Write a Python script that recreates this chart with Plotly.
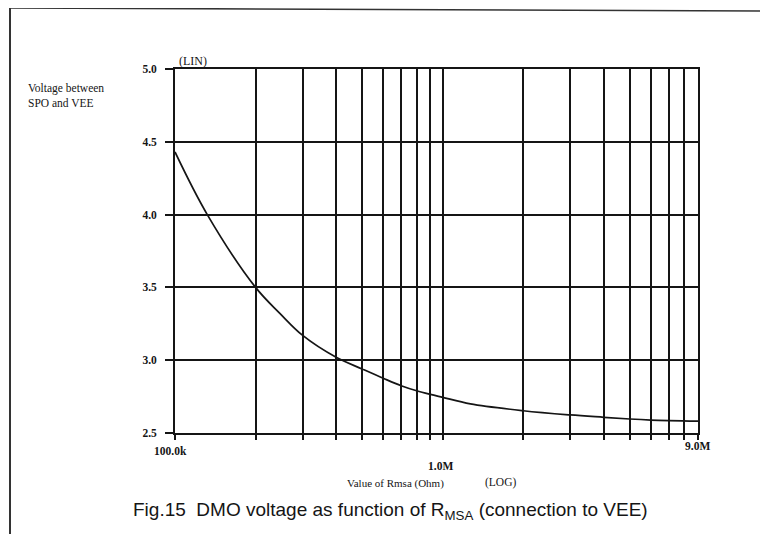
import plotly.graph_objects as go
import math

# Data (resistance in Ohm, voltage in V)
r_msa = [100e3, 132e3, 200e3, 247e3, 300e3, 400e3, 500e3, 600e3, 700e3,
         800e3, 900e3, 1.0e6, 1.27e6, 2.0e6, 3.0e6, 4.0e6, 5.0e6, 6.0e6, 9.0e6]
voltage = [4.43, 4.00, 3.50, 3.32, 3.17, 3.02, 2.94, 2.876, 2.825,
           2.79, 2.765, 2.745, 2.70, 2.653, 2.624, 2.608, 2.596, 2.589, 2.582]

x_grid = [1e5 * k for k in range(1, 10)] + [1e6 * k for k in range(1, 10)]
y_ticks = [2.5, 3.0, 3.5, 4.0, 4.5, 5.0]

OFF = 8  # page body margin
W, H = 768 - OFF, 534 - OFF
L, R, T, B = 175 - OFF, 70, 69 - OFF, 101
pw, ph = W - L - R, H - T - B

def px(xs):
    return (xs - OFF - L) / pw

def py(ys):
    return 1 - (ys - OFF - T) / ph

serif = "Liberation Serif, Times New Roman, serif"
ink = "#151515"

fig = go.Figure()
fig.add_trace(go.Scatter(x=r_msa, y=voltage, mode="lines",
                         line=dict(color=ink, width=1.7, shape="spline", smoothing=1.0),
                         hoverinfo="skip", showlegend=False))

fig.update_xaxes(type="log", range=[5, math.log10(9e6)],
                 tickvals=x_grid, showticklabels=False,
                 showgrid=True, gridcolor=ink, gridwidth=1.7,
                 ticks="outside", ticklen=5, tickcolor=ink, tickwidth=1.7,
                 showline=True, linecolor=ink, linewidth=1.8, mirror=True,
                 zeroline=False)
fig.update_yaxes(range=[2.5, 5.0], tickvals=y_ticks, tickformat=".1f",
                 showgrid=True, gridcolor=ink, gridwidth=1.7,
                 ticks="outside", ticklen=8, tickcolor=ink, tickwidth=1.7,
                 ticklabelstandoff=6,
                 tickfont=dict(family=serif, size=11.5, color=ink, weight="bold"),
                 showline=True, linecolor=ink, linewidth=1.8, mirror=True,
                 zeroline=False)

tf = dict(family=serif, size=11.5, color=ink, weight="bold")
ann = []
ann.append(dict(x=px(170), y=py(451), xref="paper", yref="paper", text="100.0k",
                showarrow=False, xanchor="center", yanchor="middle", font=tf))
ann.append(dict(x=px(440), y=py(466), xref="paper", yref="paper", text="1.0M",
                showarrow=False, xanchor="center", yanchor="middle", font=tf))
ann.append(dict(x=px(697), y=py(446), xref="paper", yref="paper", text="9.0M",
                showarrow=False, xanchor="center", yanchor="middle", font=tf))
ann.append(dict(x=px(177), y=py(61), xref="paper", yref="paper", text="(LIN)",
                showarrow=False, xanchor="left", yanchor="middle",
                font=dict(family=serif, size=12, color=ink)))
ann.append(dict(x=px(26), y=py(96), xref="paper", yref="paper",
                text="Voltage between<br>SPO and VEE",
                showarrow=False, xanchor="left", yanchor="middle", align="left",
                font=dict(family=serif, size=11.5, color=ink)))
ann.append(dict(x=px(395), y=py(483), xref="paper", yref="paper",
                text="Value of Rmsa (Ohm)",
                showarrow=False, xanchor="center", yanchor="middle",
                font=dict(family=serif, size=11, color=ink)))
ann.append(dict(x=px(500), y=py(482), xref="paper", yref="paper",
                text="(LOG)",
                showarrow=False, xanchor="center", yanchor="middle",
                font=dict(family=serif, size=11.5, color=ink)))
ann.append(dict(x=px(390), y=py(511), xref="paper", yref="paper",
                text="Fig.15  DMO voltage as function of R<sub>MSA</sub> (connection to VEE)",
                showarrow=False, xanchor="center", yanchor="middle",
                font=dict(family="Liberation Sans, Arial, sans-serif", size=19, color=ink)))

shapes = [
    dict(type="line", xref="paper", yref="paper", x0=px(10), x1=px(10),
         y0=py(8), y1=py(540), line=dict(color="#333", width=2)),
    dict(type="line", xref="paper", yref="paper", x0=px(10), x1=px(770),
         y0=py(8), y1=py(11), line=dict(color="#333", width=1.6)),
]

fig.update_layout(width=W, height=H, margin=dict(l=L, r=R, t=T, b=B),
                  paper_bgcolor="white", plot_bgcolor="white",
                  annotations=ann, shapes=shapes, showlegend=False)

fig.write_html("out.html")
